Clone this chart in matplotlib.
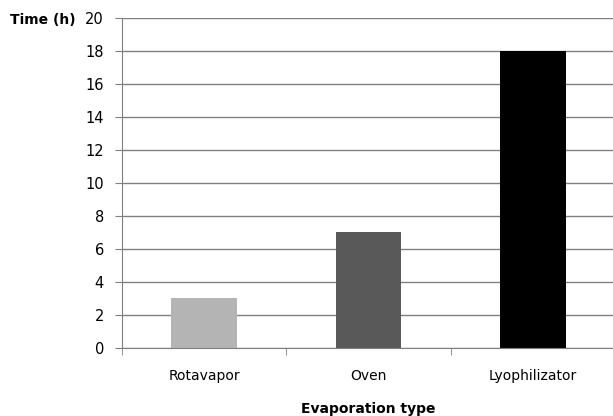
import matplotlib.pyplot as plt
import numpy as np

categories = ['Rotavapor', 'Oven', 'Lyophilizator']
times = [3, 7, 18]
colors = ['#b4b4b4', '#595959', '#000000']

fig = plt.figure(figsize=(6.13, 4.16), dpi=100)
ax = fig.add_axes([0.199, 0.1635, 0.804, 0.7932])

x = np.arange(len(categories))
ax.bar(x, times, width=0.4, color=colors, zorder=3)

ax.set_xlim(-0.5, 2.5)
ax.set_ylim(0, 20)
ax.set_yticks(range(0, 21, 2))
ax.set_xticks(x)
ax.set_xticklabels(categories, fontsize=10)
ax.set_xticks([-0.5, 0.5, 1.5, 2.5], minor=True)
ax.tick_params(axis='x', which='major', length=0, pad=15)
ax.tick_params(axis='x', which='minor', length=5, color='#808080', direction='out')
ax.tick_params(axis='y', length=5, color='#808080', labelsize=10.5, pad=8)
ax.grid(axis='y', color='#808080', linewidth=1, zorder=0)

for s in ['top', 'right']:
    ax.spines[s].set_visible(False)
for s in ['left', 'bottom']:
    ax.spines[s].set_color('#808080')
ax.spines['bottom'].set_zorder(4)

fig.text(0.016, 0.952, 'Time (h)', fontsize=10, fontweight='bold', va='center')
fig.text(0.6, 0.018, 'Evaporation type', fontsize=10, fontweight='bold', ha='center', va='center')

plt.savefig('out.png', dpi=100)
